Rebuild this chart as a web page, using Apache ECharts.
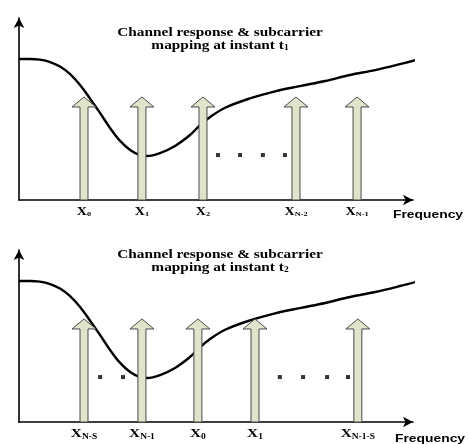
<!DOCTYPE html>
<html>
<head>
<meta charset="utf-8">
<script src="https://cdn.jsdelivr.net/npm/echarts@6/dist/echarts.min.js"></script>
<style>html,body{margin:0;padding:0;background:#fff;}#c{width:469px;height:444px;}</style>
</head>
<body>
<div id="c"></div>
<script>
// Channel response (frequency 0-100, gain units), same at t1 and t2
const channelFreq = [0, 2.8, 5.3, 7.9, 10.4, 12.9, 15.5, 18.0, 20.6, 23.1, 25.6, 28.2, 30.7, 32.5, 35.8, 39.6, 43.4, 45.9, 48.5, 52.3, 58.6, 65.0, 71.3, 77.7, 84.0, 90.4, 96.7, 102.5];
const channelT1 = [77.5, 77.5, 77.1, 75.8, 73.3, 69.3, 63.2, 55.8, 47.7, 39.6, 32.6, 27.5, 24.7, 24.2, 25.8, 29.7, 35.7, 41.0, 45.6, 50.7, 55.8, 59.7, 62.6, 65.4, 68.7, 71.4, 74.7, 78.0];
const channelT2 = [77.5, 77.5, 77.1, 75.8, 73.3, 69.3, 63.2, 55.8, 47.7, 39.6, 32.6, 27.5, 24.7, 24.2, 25.8, 29.7, 35.7, 41.0, 45.6, 50.7, 55.8, 59.7, 62.6, 65.4, 68.7, 71.4, 74.7, 78.0];

// Subcarrier positions and arrow heights
const subcarrierT1 = [16.5, 31.2, 46.7, 70.3, 85.8];
const subcarrierT2 = [16.5, 31.2, 45.4, 59.9, 86.0];
const arrowHeight = 56.6;
const labelsT1 = [['X','0'], ['X','1'], ['X','2'], ['X','N-2'], ['X','N-1']];
const labelsT2 = [['X','N-S'], ['X','N-1'], ['X','0'], ['X','1'], ['X','N-1-S']];

// Ellipsis dots
const dotsT1 = [50.5, 56.1, 61.9, 67.5];
const dotsT2 = [20.6, 26.4, 66.2, 72.1, 78.2, 83.5];
const dotLevel = 24.7;

const titleT1 = ['Channel response & subcarrier', 'mapping at instant t', '1'];
const titleT2 = ['Channel response & subcarrier', 'mapping at instant t', '2'];
const axisName = 'Frequency';

const chart = echarts.init(document.getElementById('c'), null, {renderer: 'canvas'});

function zip(xs, ys) { return xs.map((x, i) => [x, ys[i]]); }

function axisBase(extra) {
  return Object.assign({
    type: 'value', min: 0,
    axisLine: {show: true, symbol: ['none', 'arrow'], symbolSize: [8, 10], lineStyle: {color: '#000', width: 1.6}},
    axisTick: {show: false}, axisLabel: {show: false}, splitLine: {show: false}
  }, extra);
}

function arrowSeries(idx, xs, labels, fontSize) {
  return {
    type: 'custom', xAxisIndex: idx, yAxisIndex: idx, z: 5, clip: false,
    data: xs.map((x, i) => [x, arrowHeight, i]),
    renderItem: function (params, api) {
      const x = api.value(0), h = api.value(1), i = api.value(2);
      const base = api.coord([x, 0]);
      const tip = api.coord([x, h]);
      const headH = 10, headW = 12, shaftW = 4;
      const neck = tip[1] + headH;
      const bx = base[0];
      const lab = labels[i];
      return {
        type: 'group',
        children: [
          {type: 'polygon', shape: {points: [
            [bx - shaftW, base[1]], [bx - shaftW, neck], [bx - headW, neck], [bx, tip[1]],
            [bx + headW, neck], [bx + shaftW, neck], [bx + shaftW, base[1]]]},
           style: {fill: '#e1e3cb', stroke: '#4a4a4a', lineWidth: 1}},
          {type: 'text', x: bx, y: base[1] + 12, scaleX: 1.18,
           style: {text: '{b|' + lab[0] + '}{s|' + lab[1] + '}', align: 'center', verticalAlign: 'middle',
             rich: {
               b: {fontFamily: 'Liberation Serif', fontWeight: 'bold', fontSize: fontSize, fill: '#000'},
               s: {fontFamily: 'Liberation Serif', fontWeight: 'bold', fontSize: Math.round(fontSize * 0.62), fill: '#000', padding: [5, 0, 0, 0]}
             }}}
        ]
      };
    }
  };
}

function titleGraphic(t, cy) {
  const serif = {fontFamily: 'Liberation Serif', fontWeight: 'bold', fill: '#000'};
  return [
    {type: 'text', x: 220, y: cy, scaleX: 1.18, style: Object.assign({text: t[0], fontSize: 13, align: 'center', verticalAlign: 'middle'}, serif)},
    {type: 'text', x: 220, y: cy + 12.5, scaleX: 1.18, style: {text: '{a|' + t[1] + '}{s|' + t[2] + '}', align: 'center', verticalAlign: 'middle',
      rich: {a: Object.assign({fontSize: 13}, serif), s: Object.assign({fontSize: 8, padding: [5, 0, 0, 0]}, serif)}}}
  ];
}

function freqGraphic(cx, cy) {
  return {type: 'text', x: cx, y: cy, scaleX: 1.26, style: {text: axisName, fontFamily: 'Liberation Sans', fontWeight: 'bold', fontSize: 11, fill: '#000', align: 'center', verticalAlign: 'middle'}};
}

const option = {
  animation: false,
  backgroundColor: '#fff',
  grid: [
    {left: 19, width: 394, top: 18, height: 182},
    {left: 19, width: 394, top: 250, height: 172}
  ],
  xAxis: [axisBase({gridIndex: 0, max: 100}), axisBase({gridIndex: 1, max: 100})],
  yAxis: [axisBase({gridIndex: 0, max: 100}), axisBase({gridIndex: 1, max: 94.5})],
  series: [
    {type: 'line', xAxisIndex: 0, yAxisIndex: 0, data: zip(channelFreq, channelT1), smooth: 0.35, showSymbol: false, clip: false, z: 3,
     lineStyle: {color: '#000', width: 2.4}},
    {type: 'line', xAxisIndex: 1, yAxisIndex: 1, data: zip(channelFreq, channelT2), smooth: 0.35, showSymbol: false, clip: false, z: 3,
     lineStyle: {color: '#000', width: 2.4}},
    arrowSeries(0, subcarrierT1, labelsT1, 12),
    arrowSeries(1, subcarrierT2, labelsT2, 13),
    {type: 'scatter', xAxisIndex: 0, yAxisIndex: 0, symbol: 'rect', symbolSize: 4, itemStyle: {color: '#000'},
     data: dotsT1.map(x => [x, dotLevel])},
    {type: 'scatter', xAxisIndex: 1, yAxisIndex: 1, symbol: 'rect', symbolSize: 4, itemStyle: {color: '#000'},
     data: dotsT2.map(x => [x, dotLevel])}
  ],
  graphic: [].concat(titleGraphic(titleT1, 33), titleGraphic(titleT2, 255), [freqGraphic(428, 215), freqGraphic(430, 439)])
};
chart.setOption(option);
</script>
</body>
</html>
